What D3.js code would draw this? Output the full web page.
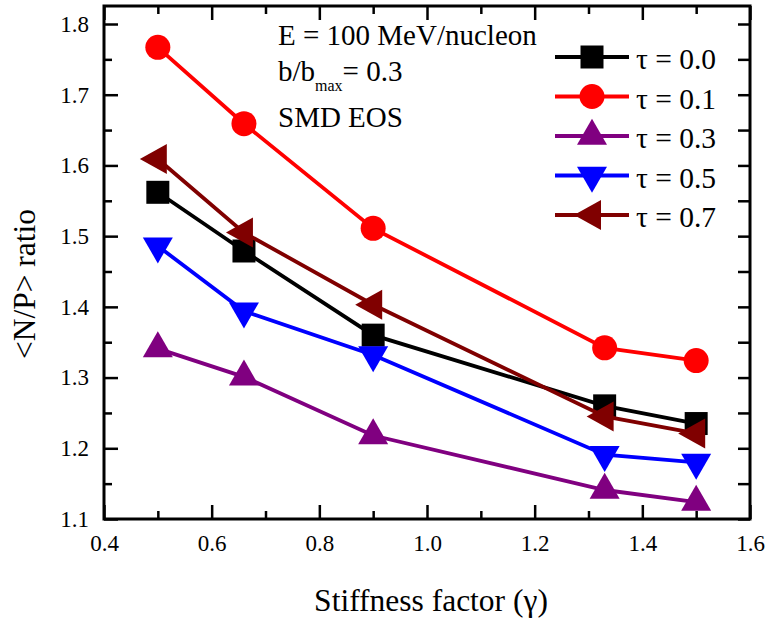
<!DOCTYPE html>
<html>
<head>
<meta charset="utf-8">
<script src="https://cdn.jsdelivr.net/npm/d3@7"></script>
<style>
  body { margin: 0; background: #fff; }
  svg text { font-family: 'Liberation Serif', 'Times New Roman', serif; fill: #000; }
</style>
</head>
<body>
<div id="root"></div>
<script>
var gammas = [0.5, 0.66, 0.9, 1.33, 1.5];

var tau00 = [1.562, 1.479, 1.360, 1.260, 1.235];
var tau01 = [1.767, 1.659, 1.511, 1.342, 1.324];
var tau03 = [1.341, 1.301, 1.218, 1.141, 1.124];
var tau05 = [1.486, 1.394, 1.332, 1.191, 1.180];
var tau07 = [1.609, 1.505, 1.403, 1.245, 1.221];

var seriesNames = ['\u03c4 = 0.0', '\u03c4 = 0.1', '\u03c4 = 0.3', '\u03c4 = 0.5', '\u03c4 = 0.7'];
var seriesColours = ['#000000', '#ff0000', '#800080', '#0000ff', '#800000'];
var seriesShapes = ['square', 'circle', 'up', 'down', 'left'];
var seriesValues = [tau00, tau01, tau03, tau05, tau07];

var xTicks = [0.4, 0.6, 0.8, 1.0, 1.2, 1.4, 1.6];
var yTicks = [1.1, 1.2, 1.3, 1.4, 1.5, 1.6, 1.7, 1.8];

var w = 766, h = 621;
var margin = { left: 104, right: 16, top: 6, bottom: 102 };
var serif = "'Liberation Serif', 'Times New Roman', serif";

var svg = d3.select('#root')
  .append('svg')
    .attr('width', w)
    .attr('height', h)
    .style('font-family', serif);

var x0 = margin.left, x1 = w - margin.right,
    y0 = h - margin.bottom, y1 = margin.top;

var x = d3.scaleLinear().domain([0.4, 1.6]).range([x0, x1]);
// 1.1 sits on the bottom of the frame, 1.8 is 18px below its top
var y = d3.scaleLinear().domain([1.1, 1.8]).range([y0, y1 + 18]);

function minorOf(ticks, step) {
  return ticks.slice(0, -1).map(function (t) { return +(t + step).toFixed(3); });
}
var xMinor = minorOf(xTicks, 0.1);
var yMinor = minorOf(yTicks, 0.05);

function styleAxis(g) {
  g.attr('font-family', null).attr('font-size', null);
  g.select('.domain').remove();
  g.selectAll('line').attr('stroke', '#000').attr('stroke-width', 2.5);
  g.selectAll('text')
    .attr('fill', '#000')
    .style('font-family', serif)
    .style('font-size', '23px');
}

// bottom
svg.append('g').attr('transform', 'translate(0,' + y0 + ')')
  .call(d3.axisBottom(x).tickValues(xTicks).tickSize(-14).tickPadding(16)
    .tickFormat(d3.format('.1f')))
  .call(styleAxis);
svg.append('g').attr('transform', 'translate(0,' + y0 + ')')
  .call(d3.axisBottom(x).tickValues(xMinor).tickSize(-8).tickFormat(''))
  .call(styleAxis);
// top
svg.append('g').attr('transform', 'translate(0,' + y1 + ')')
  .call(d3.axisTop(x).tickValues(xTicks).tickSize(-14).tickFormat(''))
  .call(styleAxis);
svg.append('g').attr('transform', 'translate(0,' + y1 + ')')
  .call(d3.axisTop(x).tickValues(xMinor).tickSize(-8).tickFormat(''))
  .call(styleAxis);
// left
svg.append('g').attr('transform', 'translate(' + x0 + ',0)')
  .call(d3.axisLeft(y).tickValues(yTicks).tickSize(-14).tickPadding(15)
    .tickFormat(d3.format('.1f')))
  .call(styleAxis);
svg.append('g').attr('transform', 'translate(' + x0 + ',0)')
  .call(d3.axisLeft(y).tickValues(yMinor).tickSize(-8).tickFormat(''))
  .call(styleAxis);
// right
svg.append('g').attr('transform', 'translate(' + x1 + ',0)')
  .call(d3.axisRight(y).tickValues(yTicks.concat(yMinor)).tickSize(-12).tickFormat(''))
  .call(styleAxis);

svg.append('rect')
  .attr('x', x0).attr('y', y1)
  .attr('width', x1 - x0).attr('height', y0 - y1)
  .attr('fill', 'none')
  .attr('stroke', '#000')
  .attr('stroke-width', 3);

function markerPath(shape) {
  var tw = 30, th = 26;
  switch (shape) {
    case 'square':
      return 'M-11.5,-11.5H11.5V11.5H-11.5Z';
    case 'circle':
      return 'M12.5,0A12.5,12.5 0 1 1 -12.5,0A12.5,12.5 0 1 1 12.5,0Z';
    case 'up':
      return 'M0,' + (-2 * th / 3) + 'L' + (tw / 2) + ',' + (th / 3) + 'L' + (-tw / 2) + ',' + (th / 3) + 'Z';
    case 'down':
      return 'M0,' + (2 * th / 3) + 'L' + (tw / 2) + ',' + (-th / 3) + 'L' + (-tw / 2) + ',' + (-th / 3) + 'Z';
    case 'left':
      return 'M' + (-2 * 27 / 3) + ',0L' + (27 / 3) + ',-15L' + (27 / 3) + ',15Z';
  }
}

var line = d3.line()
  .x(function (d) { return x(d[0]); })
  .y(function (d) { return y(d[1]); });

seriesValues.forEach(function (vals, i) {
  var pts = gammas.map(function (g, j) { return [g, vals[j]]; });
  var g = svg.append('g').attr('class', 'series');
  g.append('path')
    .datum(pts)
    .attr('d', line)
    .attr('fill', 'none')
    .attr('stroke', seriesColours[i])
    .attr('stroke-width', 3.8);
  g.selectAll('.mark')
      .data(pts)
    .enter().append('path')
      .attr('class', 'mark')
      .attr('d', markerPath(seriesShapes[i]))
      .attr('transform', function (d) {
        return 'translate(' + x(d[0]) + ',' + y(d[1]) + ')';
      })
      .attr('fill', seriesColours[i]);
});

// legend
var legend = svg.append('g').attr('transform', 'translate(555,57)');
seriesNames.forEach(function (name, i) {
  var row = legend.append('g').attr('transform', 'translate(0,' + (i * 39.5) + ')');
  row.append('line')
    .attr('x1', 0).attr('x2', 74)
    .attr('stroke', seriesColours[i])
    .attr('stroke-width', 3.8);
  row.append('path')
    .attr('d', markerPath(seriesShapes[i]))
    .attr('transform', 'translate(37,0)')
    .attr('fill', seriesColours[i]);
  row.append('text')
    .attr('x', 81).attr('y', 12)
    .style('font-size', '29.5px')
    .text(name);
});

// annotation
var note = svg.append('g').style('font-size', '29px');
note.append('text').attr('x', 278).attr('y', 45).text('E = 100 MeV/nucleon');
var bt = note.append('text').attr('x', 278).attr('y', 81);
bt.append('tspan').text('b/b');
bt.append('tspan').attr('dy', 10).style('font-size', '16px').text('max');
bt.append('tspan').attr('dy', -10).text('= 0.3');
note.append('text').attr('x', 278).attr('y', 127).text('SMD EOS');

// axis titles
svg.append('text')
  .attr('x', (x0 + x1) / 2 + 4)
  .attr('y', 611)
  .attr('text-anchor', 'middle')
  .style('font-size', '31.5px')
  .text('Stiffness factor (\u03b3)');

svg.append('text')
  .attr('transform', 'translate(35,' + 284 + ') rotate(-90)')
  .attr('text-anchor', 'middle')
  .style('font-size', '31.5px')
  .text('<N/P> ratio');
</script>
</body>
</html>
